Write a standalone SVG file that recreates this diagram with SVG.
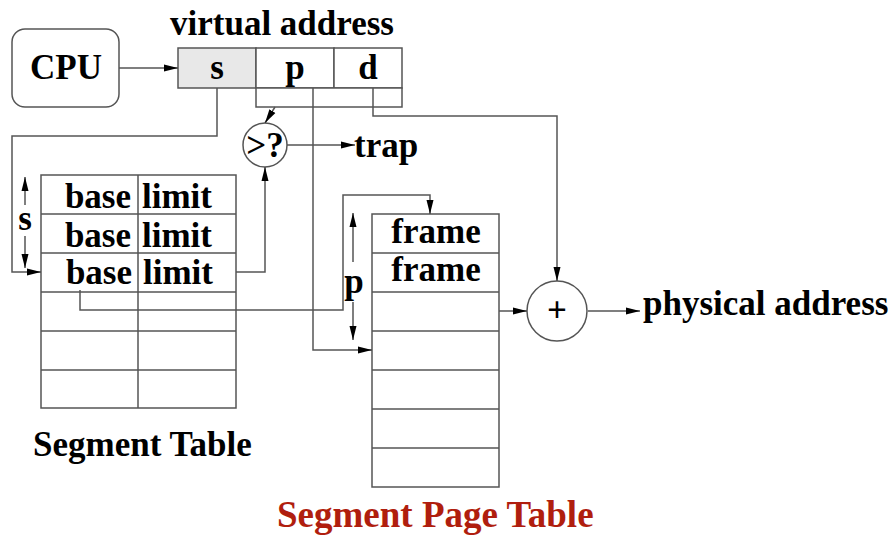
<svg xmlns="http://www.w3.org/2000/svg" width="893" height="540" viewBox="0 0 893 540">
<defs>
<marker id="ah" viewBox="0 0 14 8" refX="14" refY="4" markerWidth="14" markerHeight="8" markerUnits="userSpaceOnUse" orient="auto"><path d="M0,0.5 L14,4 L0,7.5 Z" fill="#000"/></marker>
</defs>
<style>
.ln{fill:none;stroke:#555;stroke-width:1.5}
.bx{fill:#fff;stroke:#555;stroke-width:1.5}
.t{font-family:"Liberation Serif","Times New Roman",serif;font-weight:bold;font-size:35px;fill:#000}
.c{text-anchor:middle}
.red{fill:#b01e0e;font-size:37px}
</style>
<rect width="893" height="540" fill="#fff"/>
<g id="cpu">
<rect class="bx" x="12" y="29" width="107" height="78" rx="13"/>
<text class="t c" x="66" y="79">CPU</text>
</g>
<g id="virtual-address">
<text class="t" x="170" y="35">virtual address</text>
<rect x="178" y="48" width="78" height="40" fill="#e8e8e8" stroke="#555" stroke-width="1.5"/>
<rect class="bx" x="256" y="48" width="78" height="40"/>
<rect class="bx" x="334" y="48" width="68" height="40"/>
<rect class="bx" x="256" y="88" width="146" height="19"/>
<text class="t c" x="217" y="79">s</text>
<text class="t c" x="295" y="79">p</text>
<text class="t c" x="368" y="79">d</text>
</g>
<g id="compare">
<circle class="bx" cx="265" cy="145" r="22"/>
<text class="t c" x="265" y="157" font-size="34">&gt;?</text>
</g>
<g id="trap"><text class="t" x="354" y="157">trap</text></g>
<g id="segment-table">
<rect class="bx" x="41" y="175" width="195" height="233"/>
<path class="ln" d="M138,175V408M41,214H236M41,253H236M41,292H236M41,331H236M41,370H236"/>
<text class="t" x="131" y="208" text-anchor="end">base</text>
<text class="t" x="142" y="208">limit</text>
<text class="t" x="131" y="247" text-anchor="end">base</text>
<text class="t" x="142" y="247">limit</text>
<text class="t" x="132" y="284" text-anchor="end">base</text>
<text class="t" x="143" y="284">limit</text>
<text class="t" x="33" y="456">Segment Table</text>
</g>
<g id="page-table">
<rect class="bx" x="372" y="214" width="127" height="273"/>
<path class="ln" d="M372,253H499M372,292H499M372,331H499M372,370H499M372,409H499M372,448H499"/>
<text class="t c" x="436" y="243">frame</text>
<text class="t c" x="436" y="281">frame</text>
<text class="t red" x="277" y="527">Segment Page Table</text>
</g>
<g id="adder">
<circle class="bx" cx="557" cy="311" r="30"/>
<text class="t c" x="557" y="322" font-size="30">+</text>
</g>
<g id="physical"><text class="t" x="643" y="315">physical address</text></g>
<g id="connectors">
<path class="ln" d="M119,68H178" marker-end="url(#ah)"/>
<path class="ln" d="M217,88V136H12V272H41" marker-end="url(#ah)"/>
<path class="ln" d="M275,107L265,123" marker-end="url(#ah)"/>
<path class="ln" d="M287,145H355" marker-end="url(#ah)"/>
<path class="ln" d="M236,272H265V167" marker-end="url(#ah)"/>
<path class="ln" d="M80,290V310H343V195H430V214" marker-end="url(#ah)"/>
<path class="ln" d="M313,88V350H372" marker-end="url(#ah)"/>
<path class="ln" d="M373,88V116H557V281" marker-end="url(#ah)"/>
<path class="ln" d="M499,311H527" marker-end="url(#ah)"/>
<path class="ln" d="M588,311H640" marker-end="url(#ah)"/>
<path class="ln" d="M25,205V177" marker-end="url(#ah)"/>
<path class="ln" d="M25,236V268" marker-end="url(#ah)"/>
<text class="t c" x="25" y="230" font-size="32">s</text>
<path class="ln" d="M353,262V213" marker-end="url(#ah)"/>
<path class="ln" d="M353,302V340" marker-end="url(#ah)"/>
<text class="t c" x="354" y="293">p</text>
</g>
</svg>
